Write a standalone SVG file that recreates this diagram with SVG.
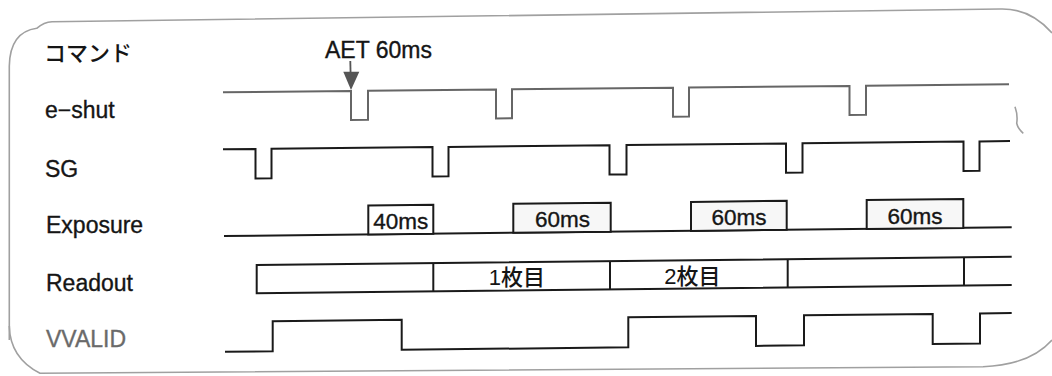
<svg xmlns="http://www.w3.org/2000/svg" width="1052" height="376" viewBox="0 0 1052 376">
<style>
.lbl{font-family:"Liberation Sans","Noto Sans CJK JP",Arial,sans-serif;font-size:23px;fill:#151515;stroke:#151515;stroke-width:0.35}
.jp{font-family:"Noto Sans CJK JP","Liberation Sans",sans-serif;font-size:22px;font-weight:500;fill:#151515}
.gray{fill:#6a6a6a;stroke:#6a6a6a}
.sig{fill:none;stroke:#1a1a1a;stroke-width:2;stroke-linejoin:miter}
.sig-g{fill:none;stroke:#666;stroke-width:2}
.box{fill:#ffffff;stroke:#1a1a1a;stroke-width:2}
.box2{fill:#f7f7f7;stroke:#1a1a1a;stroke-width:2}
.bx{font-family:"Liberation Sans",Arial,sans-serif;font-size:22.5px;fill:#151515;stroke:#151515;stroke-width:0.35;text-anchor:middle}
.num{font-family:"Liberation Sans",Arial,sans-serif;font-weight:normal}
.frame{fill:none;stroke:#a0a0a0;stroke-width:1.6}
</style>
<rect width="1052" height="376" fill="#ffffff"/>
<g id="frame">
<path class="frame" d="M9.3,340 L9.3,66 Q10,32 36.7,28.3 Q44,22 52,21.7 L1000,9 Q1030,8 1052,33"/>
<path class="frame" d="M9.3,326 Q10,358 40,373.3 L983,366.7 Q1030,365 1052,340"/>
<path class="frame" d="M1015,106.7 Q1018,115 1016.7,123.3 Q1018,129 1023.3,133.3"/>
</g>
<g id="labels">
<text id="lbl-command" class="jp" x="44" y="60.5">コマンド</text>
<text id="lbl-eshut" class="lbl" x="45" y="118.3">e−shut</text>
<text id="lbl-sg" class="lbl" x="45" y="176.7">SG</text>
<text id="lbl-exposure" class="lbl" x="46" y="233.3">Exposure</text>
<text id="lbl-readout" class="lbl" x="46" y="290.7">Readout</text>
<text id="lbl-vvalid" class="lbl gray" x="46" y="346.7">VVALID</text>
</g>
<g id="command">
<text class="lbl" x="325" y="58.3">AET 60ms</text>
<line x1="350.3" y1="61" x2="350.6" y2="74" stroke="#555" stroke-width="1.8"/>
<polygon points="343.3,71.7 359.3,71.7 351,90" fill="#555"/>
</g>
<g id="eshut">
<polyline class="sig-g" points="223,92.3 351,91 351,120 368,119.8 368,90.8 496,89.5 496,118.5 512,118.3 512,89.3 673,87.7 673,116.7 689,116.5 689,87.5 849.5,85.9 849.5,115 866,114.8 866,85.7 1009,84.3"/>
</g>
<g id="sg">
<polyline class="sig" points="223,149.3 255.5,149 255.5,178.4 271.5,178.2 271.5,148.8 432.5,147.1 432.5,176.5 448.5,176.3 448.5,146.9 609.5,145.2 609.5,174.6 626.5,174.4 626.5,145.1 786,143.4 786,172.8 802.5,172.6 802.5,143.2 963.5,141.5 963.5,170.9 979.5,170.7 979.5,141.4 1010,141"/>
</g>
<g id="exposure">
<polyline class="sig" points="224,236 1011.7,227.3"/>
<polygon class="box" points="368.3,234.4 368.3,205.4 433.3,204.7 433.3,233.7"/>
<polygon class="box2" points="513.3,232.8 513.3,203.8 610.7,202.8 610.7,231.8"/>
<polygon class="box2" points="691,230.9 691,201.9 786.7,200.8 786.7,229.8"/>
<polygon class="box2" points="866.7,228.9 866.7,199.9 963.3,198.9 963.3,227.9"/>
<text class="bx" x="400.8" y="229.3">40ms</text>
<text class="bx" x="562.5" y="227.3">60ms</text>
<text class="bx" x="739" y="225.3">60ms</text>
<text class="bx" x="915" y="223.5">60ms</text>
</g>
<g id="readout">
<polyline class="sig" points="1011.7,256.7 256.7,265 256.7,293.3 1011.7,285"/>
<line class="sig" x1="433.3" y1="263.1" x2="433.3" y2="291.4"/>
<line class="sig" x1="610" y1="261.1" x2="610" y2="289.4"/>
<line class="sig" x1="787.7" y1="259.2" x2="787.7" y2="287.5"/>
<line class="sig" x1="964" y1="257.2" x2="964" y2="285.5"/>
<text class="jp" x="517" y="285" text-anchor="middle"><tspan class="num">1</tspan>枚目</text>
<text class="jp" x="692.5" y="284" text-anchor="middle"><tspan class="num">2</tspan>枚目</text>
</g>
<g id="vvalid">
<polyline class="sig" points="225,351.7 272.7,351.2 272.7,321.2 401.7,319.8 401.7,349.8 628.3,347.3 628.3,317.3 756,315.9 756,345.9 804,345.3 804,315.3 932.7,313.9 932.7,343.9 980,343.4 980,313.4 1011.7,313"/>
</g>
</svg>
